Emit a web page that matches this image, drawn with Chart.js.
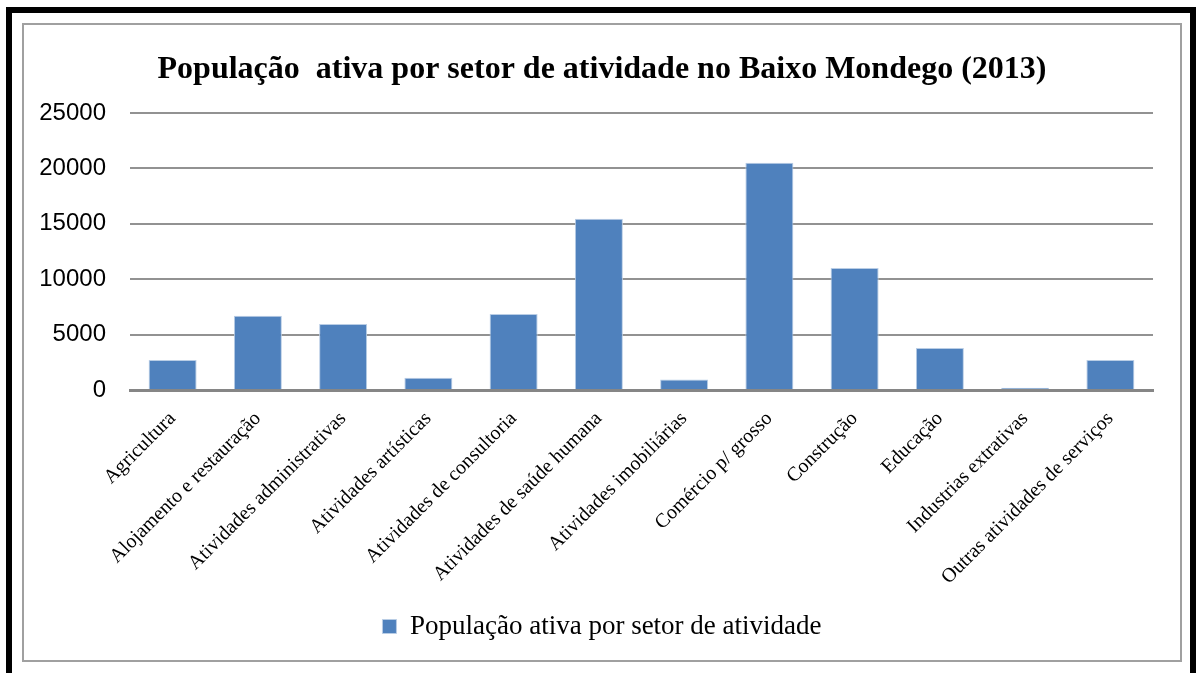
<!DOCTYPE html>
<html>
<head>
<meta charset="utf-8">
<script src="https://cdn.jsdelivr.net/npm/chart.js@4"></script>
<style>
  body { margin: 0; background: #fff; }
  .outer { position: absolute; left: 6px; top: 7px; width: 1178px; height: 700px; border: 6px solid #000; }
  .inner { position: absolute; left: 22px; top: 23px; width: 1156px; height: 635px; border: 2px solid #a0a0a0; }
  .box { position: relative; width: 1156px; height: 635px; }
</style>
</head>
<body>
<div class="outer"></div>
<div class="inner"><div class="box"><canvas id="chart"></canvas></div></div>
<script>
const categories = [
  'Agricultura', 'Alojamento e restauração', 'Atividades administrativas',
  'Atividades artísticas', 'Atividades de consultoria', 'Atividades de saúde humana',
  'Atividades imobiliárias', 'Comércio p/ grosso', 'Construção', 'Educação',
  'Industrias extrativas', 'Outras atividades de serviços'
];
const populacao = [2700, 6700, 5950, 1100, 6850, 15450, 950, 20500, 11000, 3800, 200, 2700];
const seriesName = 'População ativa por setor de atividade';
const chartTitle = 'População  ativa por setor de atividade no Baixo Mondego (2013)';

const serif = "'Liberation Serif', 'Times New Roman', serif";
const sans = "'Liberation Sans', Arial, sans-serif";

new Chart(document.getElementById('chart'), {
  type: 'bar',
  data: {
    labels: categories,
    datasets: [{
      label: seriesName,
      data: populacao,
      backgroundColor: '#4f81bd',
      borderColor: '#b9cde5',
      borderWidth: 1,
      barPercentage: 0.563,
      categoryPercentage: 1
    }]
  },
  options: {
    responsive: true,
    maintainAspectRatio: false,
    animation: false,
    layout: { padding: { left: 0, right: 0, top: 0, bottom: 10 } },
    scales: {
      x: {
        grid: { display: false },
        border: { display: true, color: '#868686', width: 3 },
        ticks: {
          color: '#000',
          font: { family: serif, size: 20 },
          minRotation: 45,
          maxRotation: 45,
          padding: 9,
          autoSkip: false
        },
        afterFit: s => { s.height = 213; }
      },
      y: {
        min: 0,
        max: 25000,
        grid: { color: '#929292', lineWidth: 2, drawTicks: false },
        border: { display: false },
        ticks: {
          stepSize: 5000,
          color: '#000',
          padding: 24,
          font: { family: sans, size: 24 },
          callback: v => String(v)
        },
        afterFit: s => { s.width = 106; }
      },
      // empty axis on the right, only to keep space like the original
      yRight: {
        position: 'right',
        grid: { display: false },
        border: { display: false },
        ticks: { display: false },
        afterFit: s => { s.width = 27; }
      }
    },
    plugins: {
      title: {
        display: true,
        text: chartTitle,
        color: '#000',
        font: { family: serif, size: 32, weight: 'bold' },
        padding: { top: 26, bottom: 23.6 }
      },
      legend: {
        position: 'bottom',
        labels: {
          color: '#000',
          boxWidth: 14,
          boxHeight: 14,
          padding: 10,
          font: { family: serif, size: 27 }
        }
      },
      tooltip: { enabled: false }
    }
  }
});
</script>
</body>
</html>
